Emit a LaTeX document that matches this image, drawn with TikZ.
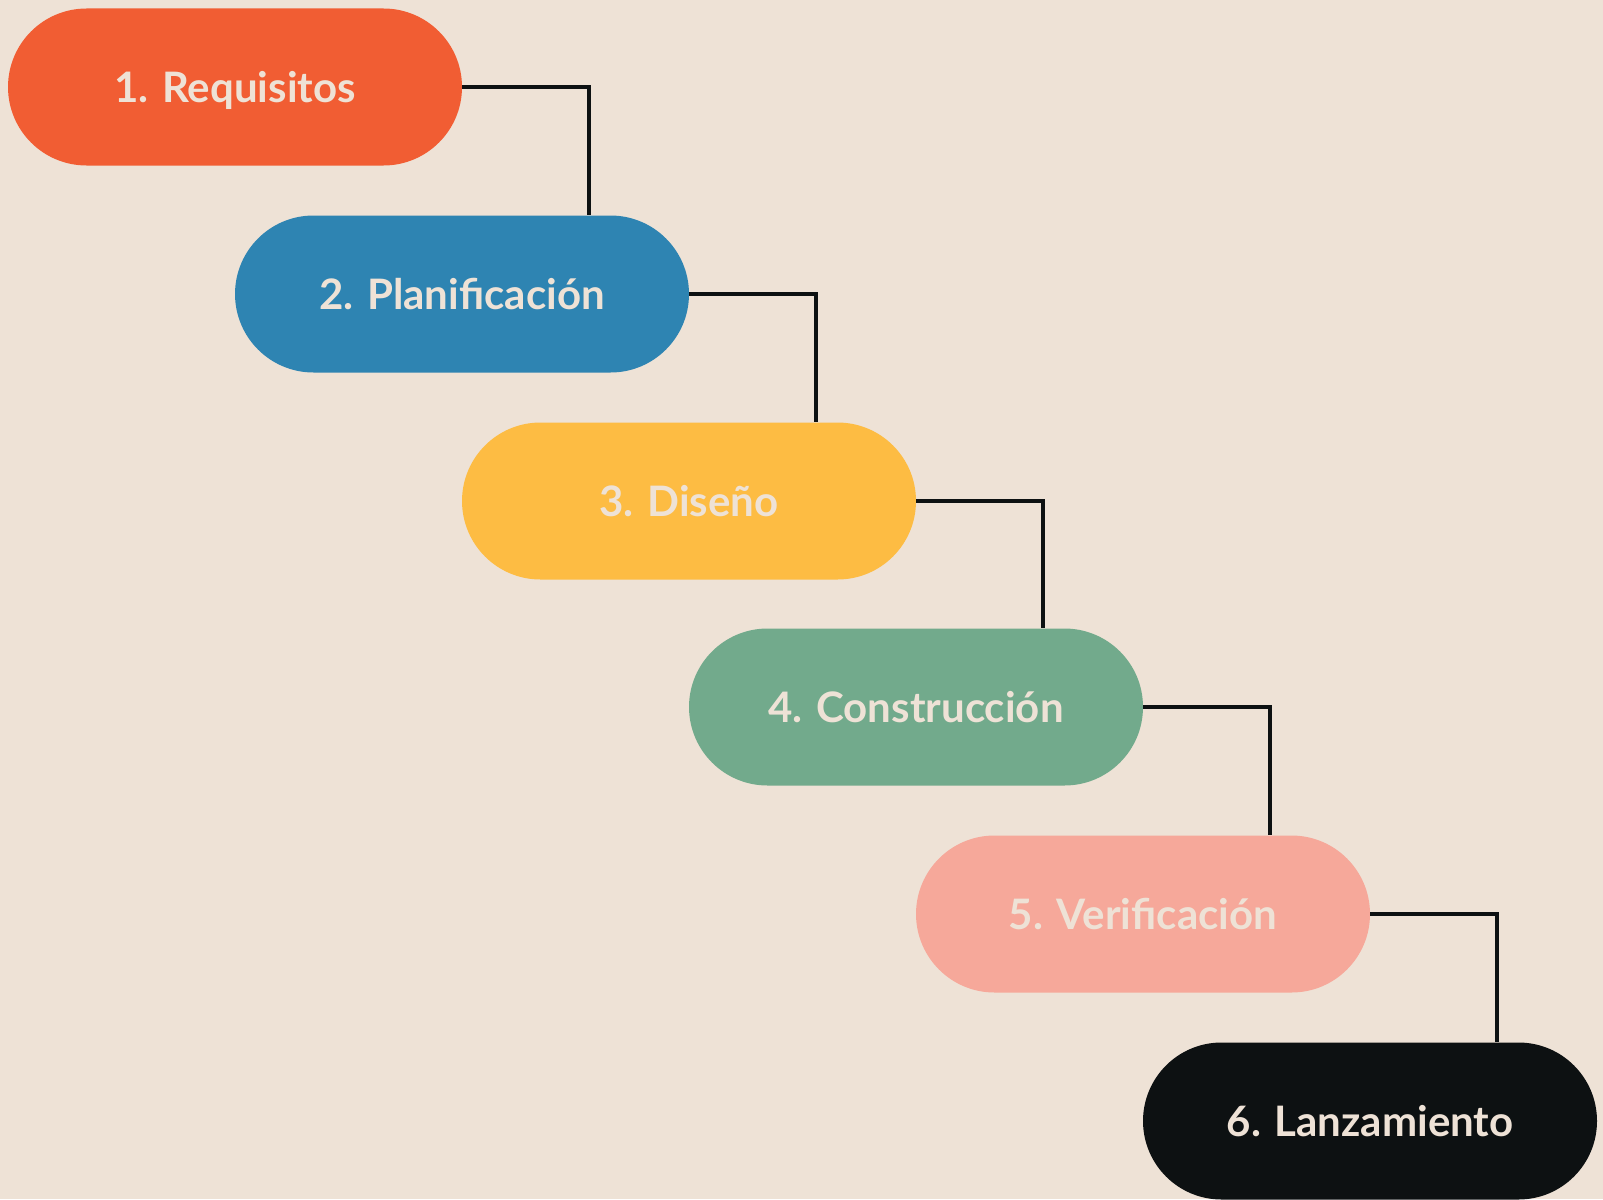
\documentclass[tikz,border=0pt]{standalone}
\usepackage{fontspec}
\setmainfont{Lato}
\definecolor{bg}{HTML}{EEE2D6}
\definecolor{txt}{HTML}{EEE2D6}
\definecolor{c1}{HTML}{F15D33}
\definecolor{c2}{HTML}{2E84B2}
\definecolor{c3}{HTML}{FDBC43}
\definecolor{c4}{HTML}{72AA8C}
\definecolor{c5}{HTML}{F6A89A}
\definecolor{c6}{HTML}{0D1112}
\begin{document}
\begin{tikzpicture}[x=1pt,y=-1pt,
  pill/.style={rectangle, rounded corners=78.5pt, minimum width=454pt, minimum height=157pt, inner sep=0pt, text height=30pt, text depth=0pt, text=txt, font=\fontsize{42}{50}\selectfont\bfseries},
  link/.style={draw=c6, line width=3.3pt}]
\fill[bg] (0,0) rectangle (1603,1199);
\useasboundingbox (0,0) rectangle (1603,1199);
\node[pill, fill=c1] (p1) at (235,87) {1. Requisitos};
\node[pill, fill=c2] (p2) at (462,294) {2. Planificación};
\node[pill, fill=c3] (p3) at (689,501) {3. Diseño};
\node[pill, fill=c4] (p4) at (916,707) {4. Construcción};
\node[pill, fill=c5] (p5) at (1143,914) {5. Verificación};
\node[pill, fill=c6] (p6) at (1370,1121) {6. Lanzamiento};
\draw[link] (p1.east) -| ([xshift=127pt]p2.north);
\draw[link] (p2.east) -| ([xshift=127pt]p3.north);
\draw[link] (p3.east) -| ([xshift=127pt]p4.north);
\draw[link] (p4.east) -| ([xshift=127pt]p5.north);
\draw[link] (p5.east) -| ([xshift=127pt]p6.north);
\end{tikzpicture}
\end{document}
